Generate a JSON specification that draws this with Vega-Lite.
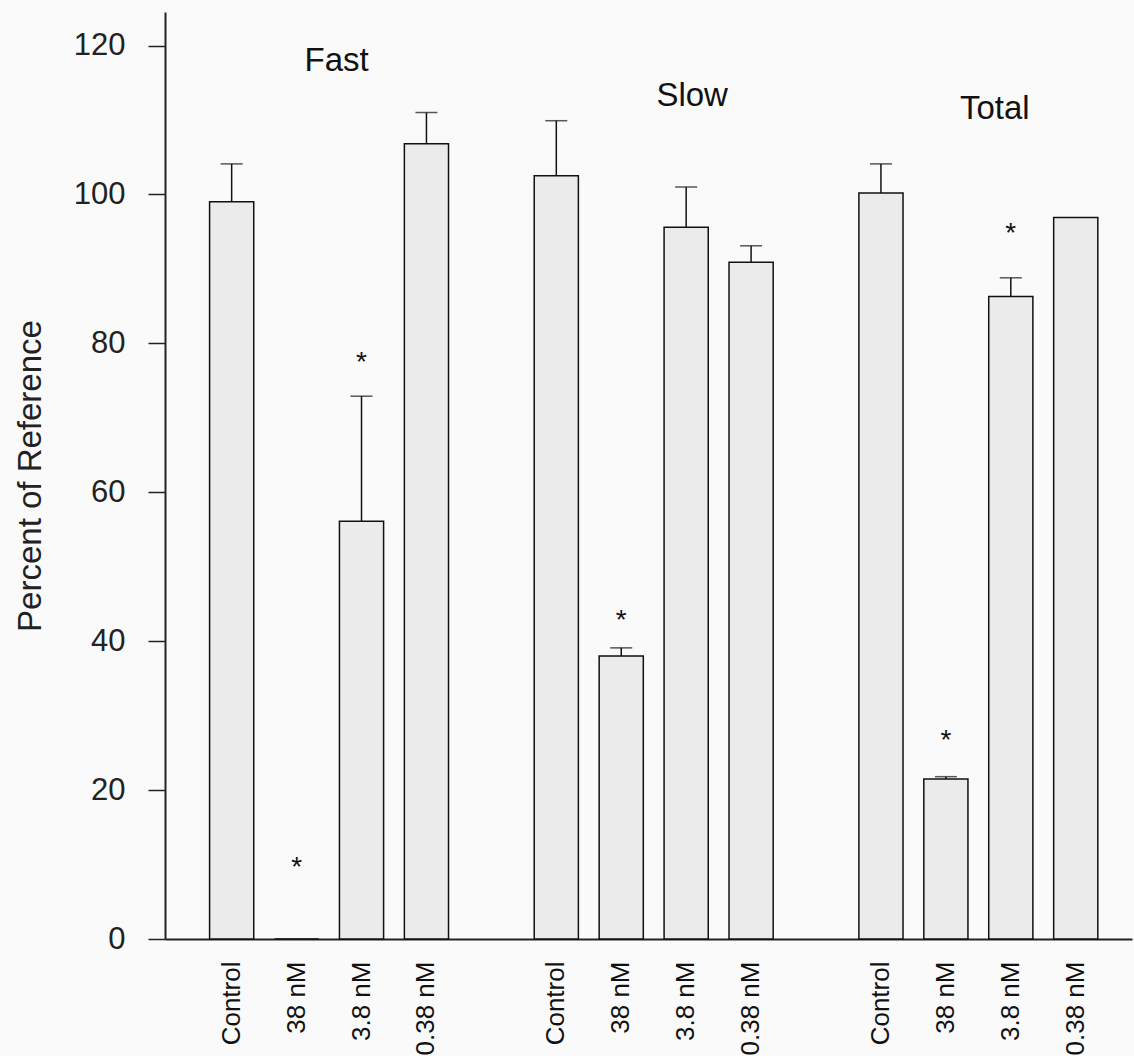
{
  "$schema": "https://vega.github.io/schema/vega-lite/v6.json",
  "autosize": "none",
  "width": 967,
  "height": 927,
  "padding": {"left": 165, "top": 12, "right": 2, "bottom": 117},
  "background": "#fafafa",
  "config": {
    "view": {"stroke": null},
    "font": "Liberation Sans"
  },
  "datasets": {
    "bars": [
      {"cond": "Fast|Control", "value": 99.0, "upper": 104.1},
      {"cond": "Fast|38 nM", "value": 0, "upper": null},
      {"cond": "Fast|3.8 nM", "value": 56.1, "upper": 72.9},
      {"cond": "Fast|0.38 nM", "value": 106.8, "upper": 111.0},
      {"cond": "Slow|Control", "value": 102.5, "upper": 109.9},
      {"cond": "Slow|38 nM", "value": 38.0, "upper": 39.1},
      {"cond": "Slow|3.8 nM", "value": 95.6, "upper": 101.0},
      {"cond": "Slow|0.38 nM", "value": 90.9, "upper": 93.1},
      {"cond": "Total|Control", "value": 100.2, "upper": 104.1},
      {"cond": "Total|38 nM", "value": 21.5, "upper": 21.8},
      {"cond": "Total|3.8 nM", "value": 86.3, "upper": 88.8},
      {"cond": "Total|0.38 nM", "value": 96.9, "upper": null}
    ],
    "stars": [
      {"cond": "Fast|38 nM", "pos": 10.6},
      {"cond": "Fast|3.8 nM", "pos": 78.5},
      {"cond": "Slow|38 nM", "pos": 43.8},
      {"cond": "Total|38 nM", "pos": 27.7},
      {"cond": "Total|3.8 nM", "pos": 95.7}
    ]
  },
  "encoding": {
    "x": {
      "field": "cond",
      "type": "nominal",
      "sort": null,
      "scale": {
        "domain": ["Fast|Control", "Fast|38 nM", "Fast|3.8 nM", "Fast|0.38 nM", "gap1",
                   "Slow|Control", "Slow|38 nM", "Slow|3.8 nM", "Slow|0.38 nM", "gap2",
                   "Total|Control", "Total|38 nM", "Total|3.8 nM", "Total|0.38 nM"],
        "paddingInner": 0.32,
        "paddingOuter": 0.6066,
        "align": 0.566
      },
      "axis": {
        "title": null,
        "labelExpr": "indexof(datum.label, '|') >= 0 ? split(datum.label, '|')[1] : ''",
        "labelAngle": -90,
        "labelFontSize": 26,
        "labelColor": "#111",
        "labelPadding": 22,
        "ticks": false,
        "tickSize": 0,
        "domainColor": "#222",
        "domainWidth": 2,
        "grid": false
      }
    }
  },
  "layer": [
    {
      "data": {"name": "bars"},
      "mark": {"type": "bar", "fill": "#ebebeb", "stroke": "#111", "strokeWidth": 1.5},
      "encoding": {
        "y": {
          "field": "value",
          "type": "quantitative",
          "scale": {"domain": [0, 124.5], "nice": false},
          "axis": {
            "title": "Percent of Reference",
            "titleFontSize": 33,
            "titleFontWeight": "normal",
            "titleColor": "#222",
            "titlePadding": 26,
            "values": [0, 20, 40, 60, 80, 100, 120],
            "labelFontSize": 31,
            "labelColor": "#222",
            "labelPadding": 23,
            "tickSize": 17,
            "tickWidth": 1.5,
            "tickColor": "#222",
            "domainColor": "#222",
            "domainWidth": 2,
            "grid": false
          }
        }
      }
    },
    {
      "data": {"name": "bars"},
      "transform": [{"filter": "isValid(datum.upper)"}],
      "mark": {"type": "rule", "stroke": "#111", "strokeWidth": 1.5},
      "encoding": {
        "y": {"field": "value", "type": "quantitative"},
        "y2": {"field": "upper"}
      }
    },
    {
      "data": {"name": "bars"},
      "transform": [{"filter": "isValid(datum.upper)"}],
      "mark": {"type": "tick", "color": "#111", "size": 22, "thickness": 1.5, "orient": "horizontal"},
      "encoding": {
        "y": {"field": "upper", "type": "quantitative"}
      }
    },
    {
      "data": {"name": "stars"},
      "mark": {"type": "text", "text": "*", "fontSize": 28, "color": "#111", "baseline": "middle", "dy": 8},
      "encoding": {
        "y": {"field": "pos", "type": "quantitative"}
      }
    },
    {
      "data": {"values": [{"cond": "Fast|38 nM", "pos": 117.9, "label": "Fast"}]},
      "mark": {"type": "text", "fontSize": 33, "color": "#111", "baseline": "middle", "dx": 40},
      "encoding": {
        "y": {"field": "pos", "type": "quantitative"},
        "text": {"field": "label"}
      }
    },
    {
      "data": {"values": [{"cond": "Slow|3.8 nM", "pos": 113.2, "label": "Slow"}]},
      "mark": {"type": "text", "fontSize": 33, "color": "#111", "baseline": "middle", "dx": 6},
      "encoding": {
        "y": {"field": "pos", "type": "quantitative"},
        "text": {"field": "label"}
      }
    },
    {
      "data": {"values": [{"cond": "Total|3.8 nM", "pos": 111.5, "label": "Total"}]},
      "mark": {"type": "text", "fontSize": 33, "color": "#111", "baseline": "middle", "dx": -16},
      "encoding": {
        "y": {"field": "pos", "type": "quantitative"},
        "text": {"field": "label"}
      }
    }
  ]
}
